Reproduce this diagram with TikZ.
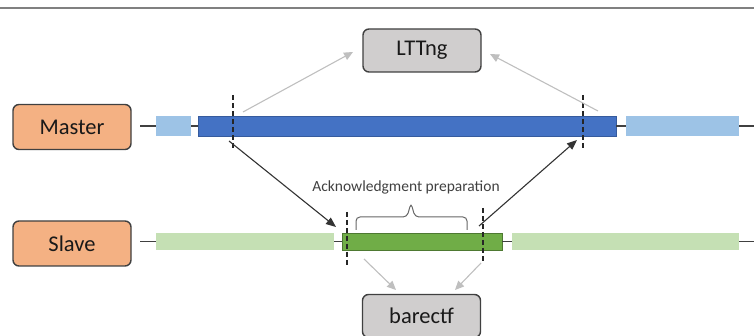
\documentclass[tikz,border=0pt]{standalone}
\usepackage{fontspec}
\setmainfont{Carlito}
\usetikzlibrary{arrows.meta}
\definecolor{peach}{HTML}{F4B183}
\definecolor{boxgray}{HTML}{D0CECE}
\definecolor{dblue}{HTML}{4472C4}
\definecolor{lblue}{HTML}{9DC3E6}
\definecolor{dgreen}{HTML}{70AD47}
\definecolor{lgreen}{HTML}{C5E0B4}
\definecolor{ink}{HTML}{404040}
\tikzset{
  rolebox/.style={draw=ink, line width=1.4pt, rounded corners=6pt, fill=peach, minimum width=118pt, minimum height=45pt, inner sep=0pt, font=\fontsize{22.5}{26}\selectfont, text=black!90},
  toolbox/.style={draw=ink, line width=1.4pt, rounded corners=6pt, fill=boxgray, minimum width=118pt, minimum height=43pt, inner sep=0pt, font=\fontsize{22.5}{26}\selectfont, text=black!90},
  bar/.style={inner sep=0pt, minimum width=#1},
  mbar/.style={bar=#1, minimum height=20pt},
  sbar/.style={bar=#1, minimum height=17pt},
  link/.style={draw=ink, line width=1.2pt},
  cut/.style={draw=black!85, line width=1.6pt, dash pattern=on 5pt off 3pt},
  grayarrow/.style={draw=black!25, line width=1.1pt, -{Triangle[length=9pt,width=8pt]}},
  blackarrow/.style={draw=black!80, line width=1.1pt, -{Triangle[length=10pt,width=8pt]}},
}
\begin{document}
\begin{tikzpicture}[x=1pt,y=-1pt]
\useasboundingbox (0,0) rectangle (754,336);
\draw[draw=black!50, line width=1.5pt] (0,8) -- (754,8);

% role boxes
\node[rolebox] (master) at (72,127) {Master};
\node[rolebox] (slave) at (72,243.5) {Slave};
\node[toolbox] (lttng) at (422,50.5) {LTTng};
\node[toolbox] (barectf) at (421.5,316) {barectf};

% master timeline
\coordinate (ms) at (140,126);
\node[mbar=35pt, fill=lblue] (m1) at (173.5,126) {};
\node[mbar=418pt, fill=dblue, draw=dblue!80!black, line width=0.5pt] (m2) at (407,126) {};
\node[mbar=113pt, fill=lblue] (m3) at (682.5,126) {};
\coordinate (me) at (754,126);
\draw[link] (ms) -- (m1.west);
\draw[link] (m1.east) -- (m2.west);
\draw[link] (m2.east) -- (m3.west);
\draw[link] (m3.east) -- (me);

% slave timeline
\coordinate (ss) at (140,241.5);
\node[sbar=178pt, fill=lgreen] (s1) at (245,241.5) {};
\node[sbar=160pt, fill=dgreen, draw=dgreen!70!black, line width=0.6pt] (s2) at (422,241.5) {};
\node[sbar=227pt, fill=lgreen] (s3) at (625.5,241.5) {};
\coordinate (se) at (754,241.5);
\draw[link] (ss) -- (s1.west);
\draw[link] (s1.east) -- (s2.west);
\draw[link] (s2.east) -- (s3.west);
\draw[link] (s3.east) -- (se);

% dashed cuts
\coordinate (c1t) at (233,95); \coordinate (c1b) at (233,148);
\coordinate (c2t) at (583,95); \coordinate (c2b) at (583,148);
\coordinate (c3t) at (347,212); \coordinate (c3b) at (347,267);
\coordinate (c4t) at (483,208); \coordinate (c4b) at (483,263);
\draw[cut] (c1t) -- (c1b);
\draw[cut] (c2t) -- (c2b);
\draw[cut] (c3t) -- (c3b);
\draw[cut] (c4t) -- (c4b);

% arrows to LTTng
\coordinate (g1s) at (243,112); \coordinate (g1e) at (353,52);
\coordinate (g2s) at (598,111); \coordinate (g2e) at (490,54);
\draw[grayarrow] (g1s) -- (g1e);
\draw[grayarrow] (g2s) -- (g2e);

% master <-> slave arrows
\coordinate (b1s) at (229,141); \coordinate (b1e) at (336,227);
\coordinate (b2s) at (479,226); \coordinate (b2e) at (577,140);
\draw[blackarrow] (b1s) -- (b1e);
\draw[blackarrow] (b2s) -- (b2e);

% arrows to barectf
\coordinate (g3s) at (364,259); \coordinate (g3e) at (396,290);
\coordinate (g4s) at (481,263); \coordinate (g4e) at (455,290);
\draw[grayarrow] (g3s) -- (g3e);
\draw[grayarrow] (g4s) -- (g4e);

% brace and label
\draw[draw=black!60, line width=1pt, rounded corners=4pt]
  (356,230) -- (356,217) -- (407,217) -- (411,203) -- (415,217) -- (467,217) -- (467,230);
\node[font=\fontsize{15.5}{18}\selectfont, text=black!75] (ack) at (406,187) {Acknowledgment preparation};
\end{tikzpicture}
\end{document}
